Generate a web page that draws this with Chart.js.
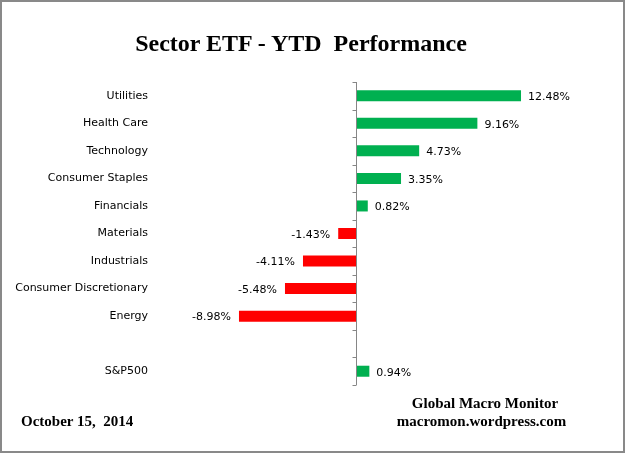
<!DOCTYPE html>
<html>
<head>
<meta charset="utf-8">
<script src="https://cdn.jsdelivr.net/npm/chart.js@4"></script>
<style>
  html, body { margin: 0; padding: 0; background: #fff; }
  #frame { position: absolute; left: 0; top: 0; width: 621px; height: 449px; border: 2px solid #898989; background: #fff; }
  #wrap { position: absolute; left: 0; top: 0; width: 626px; height: 455px; }
  .txt { position: absolute; font-family: "Liberation Serif", "Times New Roman", serif; font-weight: bold; color: #000; white-space: pre; }
  #title { left: 0; width: 602px; top: 31px; text-align: center; font-size: 24px; line-height: 24px; }
  #date { left: 21px; top: 413.5px; font-size: 15px; line-height: 15px; }
  #src1 { left: 385px; width: 200px; top: 396px; text-align: center; font-size: 15px; line-height: 15px; }
  #src2 { left: 381.5px; width: 200px; top: 414px; text-align: center; font-size: 15px; line-height: 15px; }
</style>
</head>
<body>
<div id="frame"></div>
<div id="wrap"><canvas id="c" width="626" height="455"></canvas></div>
<div class="txt" id="title">Sector ETF - YTD  Performance</div>
<div class="txt" id="date">October 15,  2014</div>
<div class="txt" id="src1">Global Macro Monitor</div>
<div class="txt" id="src2">macromon.wordpress.com</div>
<script>
const categories = ["Utilities", "Health Care", "Technology", "Consumer Staples", "Financials",
  "Materials", "Industrials", "Consumer Discretionary", "Energy", "", "S&P500"];
const ytdReturns = [12.48, 9.16, 4.73, 3.35, 0.82, -1.43, -4.11, -5.48, -8.98, null, 0.94];
const POS_COLOR = "#00B050";
const NEG_COLOR = "#FF0000";
const AXIS_COLOR = "#868686";
const X_MIN = -15.37;
const X_MAX = 18.49;

const axisAtZero = {
  id: 'axisAtZero',
  afterDatasetsDraw(chart) {
    const { ctx, chartArea, scales } = chart;
    const x0 = Math.round(scales.x.getPixelForValue(0)) - 0.5;
    const ys = scales.y;
    ctx.save();
    ctx.strokeStyle = AXIS_COLOR;
    ctx.lineWidth = 1;
    ctx.beginPath();
    ctx.moveTo(x0, chartArea.top);
    ctx.lineTo(x0, chartArea.bottom);
    for (let i = 0; i <= categories.length; i++) {
      const y = Math.round(ys.getPixelForValue(i - 0.5)) + 0.5;
      ctx.moveTo(x0 - 4, y);
      ctx.lineTo(x0, y);
    }
    ctx.stroke();
    ctx.restore();
  }
};

const valueLabels = {
  id: 'valueLabels',
  afterDatasetsDraw(chart) {
    const { ctx } = chart;
    const meta = chart.getDatasetMeta(0);
    ctx.save();
    ctx.font = '11px "DejaVu Sans"';
    ctx.fillStyle = '#000';
    ctx.textBaseline = 'middle';
    meta.data.forEach((bar, i) => {
      const v = ytdReturns[i];
      if (v === null || v === undefined) return;
      const label = v.toFixed(2) + '%';
      if (v >= 0) {
        ctx.textAlign = 'left';
        ctx.fillText(label, bar.x + 7, bar.y + 1.5);
      } else {
        ctx.textAlign = 'right';
        ctx.fillText(label, bar.x - 8, bar.y + 1.5);
      }
    });
    ctx.restore();
  }
};

new Chart(document.getElementById('c'), {
  type: 'bar',
  data: {
    labels: categories,
    datasets: [{
      data: ytdReturns,
      backgroundColor: ytdReturns.map(v => (v !== null && v < 0) ? NEG_COLOR : POS_COLOR),
      borderWidth: 0,
      categoryPercentage: 1,
      barPercentage: 0.4
    }]
  },
  options: {
    indexAxis: 'y',
    responsive: false,
    animation: false,
    devicePixelRatio: 1,
    layout: { padding: { top: 82, bottom: 70, left: 0, right: 26 } },
    plugins: { legend: { display: false }, tooltip: { enabled: false }, title: { display: false } },
    scales: {
      x: { display: false, min: X_MIN, max: X_MAX },
      y: {
        afterFit(scale) { scale.width = 155; },
        grid: { display: false, drawTicks: false },
        border: { display: false },
        ticks: { color: '#000', font: { family: 'DejaVu Sans', size: 11 }, padding: 7, autoSkip: false }
      }
    }
  },
  plugins: [axisAtZero, valueLabels]
});
</script>
</body>
</html>
